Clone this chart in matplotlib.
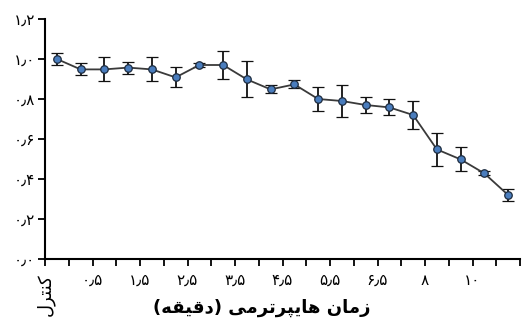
import numpy as np
import matplotlib
matplotlib.use("Agg")
import matplotlib.pyplot as plt

# ---- data ----
values = [1.00, 0.948, 0.948, 0.957, 0.948, 0.908, 0.970, 0.970, 0.898, 0.848,
          0.873, 0.800, 0.790, 0.770, 0.758, 0.720, 0.548, 0.498, 0.428, 0.320]
errors = [0.03, 0.03, 0.06, 0.03, 0.06, 0.05, 0.008, 0.07, 0.09, 0.02,
          0.02, 0.06, 0.08, 0.04, 0.04, 0.07, 0.083, 0.06, 0.01, 0.03]
x_tick_labels = ["کنترل", "۰٫۵", "۱٫۵", "۲٫۵", "۳٫۵", "۴٫۵", "۵٫۵", "۶٫۵", "۸", "۱۰"]
y_ticks = [0.0, 0.2, 0.4, 0.6, 0.8, 1.0, 1.2]
y_tick_labels = ["۰٫۰", "۰٫۲", "۰٫۴", "۰٫۶", "۰٫۸", "۱٫۰", "۱٫۲"]
x_label = "زمان هایپرترمی (دقیقه)"

# ---- minimal Persian shaping (presentation forms + visual order) ----
FORMS = {  # isolated, final, initial, medial
    'ا': ('\uFE8D', '\uFE8E', None, None),
    'د': ('\uFEA9', '\uFEAA', None, None),
    'ر': ('\uFEAD', '\uFEAE', None, None),
    'ز': ('\uFEAF', '\uFEB0', None, None),
    'ت': ('\uFE95', '\uFE96', '\uFE97', '\uFE98'),
    'ق': ('\uFED5', '\uFED6', '\uFED7', '\uFED8'),
    'ل': ('\uFEDD', '\uFEDE', '\uFEDF', '\uFEE0'),
    'م': ('\uFEE1', '\uFEE2', '\uFEE3', '\uFEE4'),
    'ن': ('\uFEE5', '\uFEE6', '\uFEE7', '\uFEE8'),
    'ه': ('\uFEE9', '\uFEEA', '\uFEEB', '\uFEEC'),
    'ی': ('\uFBFC', '\uFBFD', '\uFBFE', '\uFBFF'),
    'پ': ('\uFB56', '\uFB57', '\uFB58', '\uFB59'),
    'ک': ('\uFB8E', '\uFB8F', '\uFB90', '\uFB91'),
}


def dual(c):
    return c in FORMS and FORMS[c][2] is not None


def shape(text):
    if not any(c in FORMS for c in text):
        return text
    out = []
    for i, c in enumerate(text):
        if c not in FORMS:
            out.append(c)
            continue
        prev = text[i - 1] if i > 0 else ''
        nxt = text[i + 1] if i + 1 < len(text) else ''
        jp = dual(prev)
        jn = dual(c) and nxt in FORMS
        f = FORMS[c]
        if jp and jn:
            out.append(f[3])
        elif jp:
            out.append(f[1])
        elif jn:
            out.append(f[2])
        else:
            out.append(f[0])
    vis = ''.join(reversed(out))
    vis = vis.translate(str.maketrans({'(': ')', ')': '('}))
    return vis


plt.rcParams['font.family'] = ['DejaVu Sans']

fig = plt.figure(figsize=(5.22, 3.22), dpi=100)
ax = fig.add_axes([45 / 522, (322 - 259) / 322, 475 / 522, 240 / 322])

x = np.arange(len(values))
ax.errorbar(x, values, yerr=errors, fmt='-o', color='#3a3a3a', lw=1.3,
            ecolor='#111111', elinewidth=1.3, capsize=4.2, capthick=1.3,
            markerfacecolor='#4a7dbd', markeredgecolor='#1d2b3e',
            markeredgewidth=0.9, markersize=5.4, zorder=3)

ax.set_xlim(-0.5, len(values) - 0.5)
ax.set_ylim(0, 1.2)
ax.set_yticks(y_ticks)
ax.set_yticklabels(y_tick_labels, fontsize=11)

bounds = np.arange(-0.5, len(values), 1.0)
ax.set_xticks(bounds)
labels = []
k = 0
for i in range(len(bounds)):
    if i % 2 == 0 and k < len(x_tick_labels):
        labels.append(shape(x_tick_labels[k]))
        k += 1
    else:
        labels.append('')
ax.set_xticklabels(labels, fontsize=11)
first = ax.get_xticklabels()[0]
first.set_rotation(90)
first.set_fontsize(13)

fig.text(262 / 522, (322 - 308) / 322, shape(x_label), fontsize=13,
         fontweight='bold', ha='center', va='center')

for s in ['top', 'right']:
    ax.spines[s].set_visible(False)
for s in ['left', 'bottom']:
    ax.spines[s].set_linewidth(1.5)
ax.tick_params(direction='out', length=5, width=1.3, pad=2)
ax.tick_params(axis='x', pad=5)

fig.savefig('out.png', dpi=100)
